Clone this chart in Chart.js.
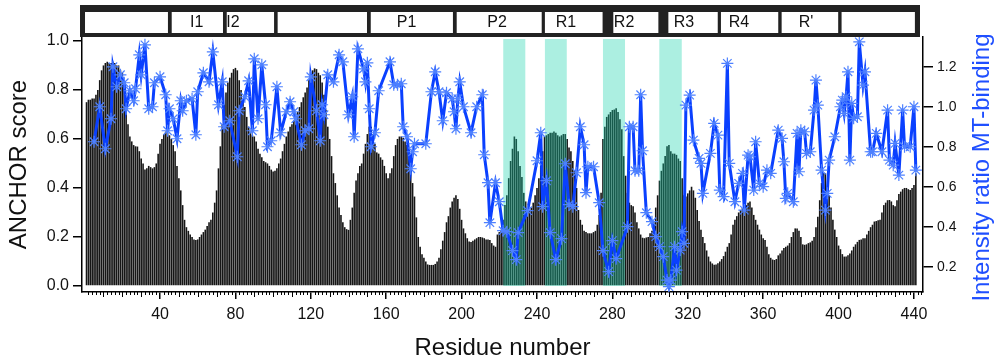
<!DOCTYPE html>
<html><head><meta charset="utf-8">
<script src="https://cdn.jsdelivr.net/npm/chart.js@4.4.1/dist/chart.umd.min.js"></script>
<style>html,body{margin:0;padding:0;background:#fff;}canvas{display:block;}</style>
</head><body>
<canvas id="c" width="995" height="363"></canvas>
<script>
// ANCHOR score per residue (residues 1..441)
const anchorScore = [
0.75,0.76,0.76,0.765,0.765,0.78,0.8,0.84,0.88,0.9,
0.91,0.915,0.91,0.91,0.915,0.91,0.9,0.9,0.88,0.87,
0.82,0.72,0.66,0.61,0.59,0.575,0.57,0.569,0.55,0.52,
0.5,0.475,0.48,0.49,0.485,0.48,0.485,0.5,0.54,0.58,
0.6,0.62,0.63,0.625,0.615,0.6,0.575,0.55,0.49,0.44,
0.39,0.33,0.27,0.24,0.225,0.21,0.2,0.19,0.188,0.19,
0.2,0.21,0.22,0.23,0.245,0.26,0.27,0.3,0.34,0.39,
0.48,0.57,0.66,0.74,0.79,0.83,0.85,0.87,0.885,0.89,
0.88,0.84,0.8,0.76,0.73,0.69,0.65,0.63,0.615,0.61,
0.59,0.56,0.54,0.525,0.51,0.505,0.5,0.49,0.475,0.467,
0.47,0.48,0.5,0.52,0.55,0.58,0.61,0.63,0.65,0.66,
0.675,0.69,0.71,0.73,0.75,0.77,0.79,0.81,0.84,0.865,
0.88,0.888,0.885,0.87,0.86,0.83,0.78,0.72,0.65,0.6,
0.53,0.46,0.42,0.37,0.32,0.29,0.26,0.24,0.232,0.229,
0.27,0.32,0.38,0.43,0.46,0.49,0.5,0.54,0.58,0.62,
0.65,0.65,0.62,0.58,0.545,0.54,0.525,0.515,0.49,0.46,
0.44,0.46,0.48,0.53,0.575,0.6,0.61,0.61,0.605,0.59,
0.575,0.53,0.48,0.42,0.365,0.28,0.2,0.16,0.13,0.115,
0.1,0.088,0.086,0.086,0.086,0.09,0.1,0.115,0.15,0.185,
0.22,0.26,0.285,0.32,0.345,0.36,0.37,0.355,0.315,0.27,
0.235,0.215,0.195,0.182,0.18,0.185,0.19,0.195,0.2,0.2,
0.198,0.195,0.19,0.19,0.188,0.175,0.165,0.16,0.21,0.22,
0.23,0.27,0.33,0.37,0.44,0.51,0.56,0.61,0.6,0.55,
0.49,0.445,0.38,0.345,0.315,0.31,0.32,0.34,0.37,0.4,
0.44,0.49,0.55,0.61,0.615,0.62,0.625,0.625,0.63,0.625,
0.615,0.61,0.615,0.62,0.62,0.6,0.565,0.55,0.51,0.47,
0.4,0.31,0.27,0.25,0.225,0.22,0.215,0.215,0.215,0.22,
0.225,0.25,0.29,0.38,0.6,0.65,0.69,0.7,0.71,0.718,
0.72,0.725,0.71,0.68,0.64,0.53,0.45,0.38,0.34,0.33,
0.325,0.3,0.26,0.235,0.21,0.197,0.195,0.198,0.2,0.215,
0.225,0.26,0.32,0.37,0.43,0.47,0.5,0.53,0.57,0.575,
0.55,0.54,0.54,0.535,0.52,0.51,0.44,0.37,0.365,0.378,
0.39,0.405,0.39,0.36,0.31,0.265,0.23,0.2,0.175,0.145,
0.12,0.1,0.092,0.087,0.088,0.093,0.1,0.11,0.122,0.14,
0.16,0.175,0.21,0.25,0.27,0.285,0.3,0.31,0.318,0.325,
0.33,0.34,0.345,0.32,0.29,0.27,0.25,0.23,0.21,0.195,
0.188,0.16,0.13,0.115,0.108,0.106,0.11,0.125,0.133,0.145,
0.155,0.16,0.165,0.175,0.2,0.22,0.235,0.235,0.225,0.2,
0.17,0.168,0.17,0.175,0.178,0.185,0.2,0.24,0.283,0.35,
0.42,0.46,0.46,0.4,0.37,0.32,0.27,0.23,0.2,0.165,
0.15,0.13,0.12,0.12,0.125,0.133,0.145,0.16,0.17,0.18,
0.188,0.19,0.195,0.195,0.21,0.225,0.24,0.25,0.263,0.265,
0.268,0.27,0.3,0.33,0.34,0.35,0.351,0.345,0.33,0.325,
0.35,0.375,0.385,0.395,0.4,0.4,0.395,0.392,0.4,0.412,
0.46
];

// Intensity ratio (MT-binding): residue numbers and values
const lineResidue = [5,8,11,14,15,17,19,21,22,24,26,27,29,30,32,34,36,37,40,43,44,45,47,49,51,52,54,57,59,60,63,66,68,71,73,74,77,81,82,85,87,89,90,92,94,96,97,99,102,104,107,109,111,112,115,117,119,120,123,125,126,127,129,132,135,137,140,142,143,145,148,149,150,151,152,154,156,162,164,166,168,169,171,173,174,175,181,184,186,188,190,192,195,196,197,198,199,201,205,208,211,212,214,215,218,220,222,224,227,229,230,235,240,242,243,245,247,250,253,255,257,259,261,263,265,266,267,270,273,275,278,280,282,288,289,291,292,294,295,296,298,301,303,305,307,309,310,311,313,314,316,317,318,319,321,323,326,327,328,332,334,336,337,339,341,342,345,347,349,350,352,353,355,356,358,360,362,364,368,370,371,372,373,376,378,379,380,382,383,385,387,388,389,391,393,394,395,398,401,402,403,404,405,406,407,408,410,411,413,414,417,418,420,423,426,427,429,430,432,434,435,438,440,441];
const lineRatio = [0.825,1.0,0.79,0.94,1.2,1.1,1.16,1.12,0.99,1.08,1.03,1.09,1.26,1.16,1.31,0.99,1.0,1.12,1.15,1.06,0.88,0.99,0.94,0.84,1.03,0.98,1.03,1.04,0.86,1.075,1.17,1.125,1.275,1.01,1.125,0.9,0.93,0.75,0.98,1.05,1.13,0.88,1.24,0.94,1.21,1.01,0.8,0.83,1.1,0.87,0.975,1.025,0.975,0.94,0.81,0.88,0.89,1.15,0.98,0.83,1.01,0.96,1.16,1.125,1.26,1.225,0.96,1.05,0.85,1.29,1.19,1.125,1.22,0.99,0.8,0.87,1.08,1.225,1.11,1.11,1.115,0.9,0.85,0.69,0.775,0.815,0.815,1.075,1.175,1.075,0.93,1.07,1.04,0.975,0.89,1.04,1.125,1.0,0.87,1.0,1.06,0.76,0.62,0.42,0.62,0.525,0.38,0.375,0.28,0.235,0.37,0.48,0.73,0.87,0.5,0.63,0.37,0.235,0.34,0.715,0.51,0.5,0.67,0.9,0.81,0.57,0.7,0.7,0.52,0.28,0.175,0.33,0.24,0.4,0.9,0.9,0.68,0.68,1.06,0.78,0.47,0.425,0.35,0.3,0.25,0.133,0.1,0.133,0.3,0.183,0.283,0.375,0.317,1.008,1.058,0.833,0.742,0.717,0.567,0.767,0.917,0.858,0.583,0.55,1.217,0.717,0.525,0.617,0.667,0.483,0.758,0.75,0.583,0.825,0.617,0.6,0.683,0.667,0.883,0.842,0.725,0.542,0.567,0.525,0.867,0.675,0.883,0.875,0.767,0.775,0.983,1.133,1.008,0.683,0.483,0.567,0.733,0.85,1.0,1.033,0.967,1.05,1.175,0.733,1.017,0.942,0.95,1.325,1.108,1.175,0.775,0.775,0.867,0.775,0.983,0.733,0.708,0.817,0.658,0.983,0.8,0.8,1.0,0.683];

const xTickValues = [40,80,120,160,200,240,280,320,360,400,440];
const yLeftTicks = [0,0.2,0.4,0.6,0.8,1.0];
const yRightTicks = [0.2,0.4,0.6,0.8,1.0,1.2];

// Domain strip (residue ranges) and label anchor residues
const domainLabels = ['', 'I1', 'I2', '', 'P1', 'P2', 'R1', 'R2', 'R3', 'R4', "R'", ''];
const domainStart  = [0.2, 46.2, 75.4, 102.4, 151.8, 197.4, 244.2, 280.5, 309.7, 337.6, 369.8, 401.6];
const domainEnd    = [44.2, 73.4, 100.5, 149.8, 195.4, 242.5, 274.8, 304.4, 335.9, 368, 399.8, 440.5];
const domainLabelAt= [22, 59.5, 78.7, 126, 170.8, 218.8, 255.4, 286.2, 318, 347.2, 382.7, 421];

// Highlighted (shaded) residue ranges
const shadeStart = [222.1, 244.2, 275.0, 304.9];
const shadeEnd   = [233.8, 255.8, 286.7, 316.8];

const FONT = "'Liberation Sans', Arial, Helvetica, sans-serif";

const decor = {
  id: 'decor',
  afterDatasetDraw(chart, args) {
    if (args.meta.type !== 'bar') return;
    const {ctx, chartArea, scales: {x, y}} = chart;
    ctx.save();
    ctx.fillStyle = 'rgba(24,212,172,0.36)';
    const y0 = y.getPixelForValue(0);
    shadeStart.forEach((s, i) => {
      const x0 = x.getPixelForValue(s), x1 = x.getPixelForValue(shadeEnd[i]);
      ctx.fillRect(x0, chartArea.top + 2, x1 - x0, y0 - chartArea.top - 2);
    });
    ctx.restore();
  },
  afterDraw(chart) {
    const {ctx, chartArea, scales: {x}} = chart;
    ctx.save();
    // minor ticks on x axis
    ctx.strokeStyle = '#000';
    ctx.lineWidth = 1;
    const base = chartArea.bottom;
    for (let r = 2; r <= 444; r += 2) {
      if (r % 40 === 0) continue;
      const len = (r % 10 === 0) ? 5 : 3;
      const px = Math.round(x.getPixelForValue(r)) + 0.5;
      ctx.beginPath();
      ctx.moveTo(px, base);
      ctx.lineTo(px, base + len);
      ctx.stroke();
    }
    // domain strip
    ctx.fillStyle = '#222';
    ctx.fillRect(chartArea.left - 2, 5, chartArea.right - chartArea.left - 1, chartArea.top - 5);
    ctx.font = '16px ' + FONT;
    ctx.textBaseline = 'middle';
    ctx.textAlign = 'center';
    domainStart.forEach((s, i) => {
      const x0 = x.getPixelForValue(s), x1 = x.getPixelForValue(domainEnd[i]);
      ctx.fillStyle = '#fff';
      ctx.fillRect(x0, 12, x1 - x0, 21);
      if (domainLabels[i]) {
        ctx.fillStyle = '#111';
        ctx.fillText(domainLabels[i], x.getPixelForValue(domainLabelAt[i]), 23);
      }
    });
    // right axis title
    ctx.translate(982, (chartArea.top + chartArea.bottom) / 2 + 3);
    ctx.rotate(-Math.PI / 2);
    ctx.fillStyle = '#1f4fff';
    ctx.font = '24px ' + FONT;
    ctx.textAlign = 'center';
    ctx.textBaseline = 'middle';
    ctx.fillText('Intensity ratio MT-binding', 0, 0);
    ctx.restore();
  }
};

new Chart(document.getElementById('c'), {
  type: 'bar',
  data: {
    datasets: [
      {
        type: 'line',
        order: 0,
        data: lineResidue.map((r, i) => ({x: r, y: lineRatio[i]})),
        yAxisID: 'y2',
        borderColor: '#0a40ff',
        borderWidth: 3,
        pointStyle: 'star',
        pointRadius: 6,
        pointBorderColor: '#4d80ff',
        pointBorderWidth: 1.2,
        pointBackgroundColor: 'rgba(0,0,0,0)',
        tension: 0
      },
      {
        type: 'bar',
        order: 1,
        data: anchorScore.map((v, i) => ({x: i + 1, y: v})),
        yAxisID: 'y',
        backgroundColor: '#161616',
        borderWidth: 0,
        barPercentage: 0.85,
        categoryPercentage: 1
      }
    ]
  },
  options: {
    responsive: false,
    animation: false,
    devicePixelRatio: 1,
    layout: {padding: {top: 37, left: 0, right: 0, bottom: 0}},
    plugins: {legend: {display: false}, tooltip: {enabled: false}},
    scales: {
      x: {
        type: 'linear', position: 'bottom', min: -1.4, max: 444.8, offset: false,
        afterBuildTicks: a => { a.ticks = xTickValues.map(v => ({value: v})); },
        afterFit: s => { s.height = 71; },
        grid: {display: true, drawOnChartArea: false, drawTicks: true, tickLength: 7, color: '#000', lineWidth: 1.5, offset: false},
        border: {display: true, color: '#000', width: 1.5},
        ticks: {font: {family: FONT, size: 16}, color: '#111', padding: 6, maxRotation: 0, autoSkip: false, callback: v => String(v)},
        title: {display: true, text: 'Residue number', font: {family: FONT, size: 24}, color: '#111', padding: {top: 0, bottom: 0}}
      },
      y: {
        type: 'linear', position: 'left', min: -0.0245, max: 1.016,
        afterBuildTicks: a => { a.ticks = yLeftTicks.map(v => ({value: v})); },
        afterFit: s => { s.width = 82; },
        grid: {display: true, drawOnChartArea: false, drawTicks: true, tickLength: 9, color: '#000', lineWidth: 1.5},
        border: {display: true, color: '#000', width: 1.5},
        ticks: {font: {family: FONT, size: 16}, color: '#111', padding: 4, callback: v => Number(v).toFixed(1)},
        title: {display: true, text: 'ANCHOR score', font: {family: FONT, size: 24}, color: '#111', padding: {top: 5, bottom: 0}}
      },
      y2: {
        type: 'linear', position: 'right', min: 0.0733, max: 1.349,
        afterBuildTicks: a => { a.ticks = yRightTicks.map(v => ({value: v})); },
        afterFit: s => { s.width = 72; },
        grid: {display: true, drawOnChartArea: false, drawTicks: true, tickLength: 10, color: '#000', lineWidth: 1.5},
        border: {display: true, color: '#000', width: 1.5},
        ticks: {font: {family: FONT, size: 14}, color: '#111', padding: 4, callback: v => Number(v).toFixed(1)},
        title: {display: false}
      }
    }
  },
  plugins: [decor]
});
</script>
</body></html>
